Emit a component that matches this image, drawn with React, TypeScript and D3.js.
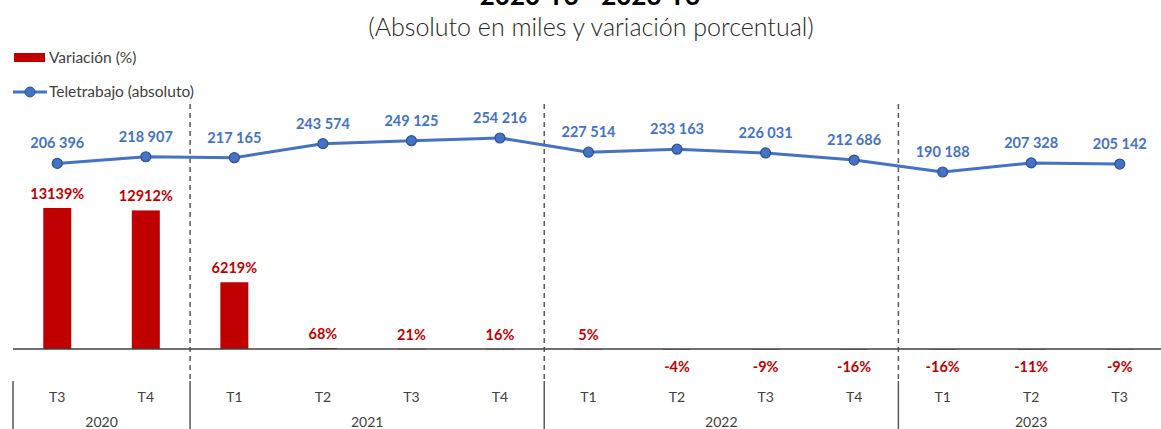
import React from "react";
import * as d3 from "d3";

const quarters = ["T3", "T4", "T1", "T2", "T3", "T4", "T1", "T2", "T3", "T4", "T1", "T2", "T3"];
const years = ["2020", "2020", "2021", "2021", "2021", "2021", "2022", "2022", "2022", "2022", "2023", "2023", "2023"];
const variation = [13139, 12912, 6219, 68, 21, 16, 5, -4, -9, -16, -16, -11, -9];
const teletrabajo = [206396, 218907, 217165, 243574, 249125, 254216, 227514, 233163, 226031, 212686, 190188, 207328, 205142];

const W = 1161;
const H = 429;
const FONT = "Lato, 'Open Sans', sans-serif";
const RED = "#C00000";
const BLUE = "#4472C4";

const fmt = (v: number) => {
  const s = String(v);
  return s.length > 3 ? s.slice(0, s.length - 3) + " " + s.slice(s.length - 3) : s;
};

export default function App() {
  const ids = quarters.map((_, i) => String(i));
  const x = d3.scaleBand<string>().domain(ids).range([13, 1164]).paddingInner(0).paddingOuter(0);
  const step = x.step();
  const cx = (i: number) => (x(String(i)) as number) + step / 2;
  const baseY = 349;
  const yBar = d3.scaleLinear().domain([0, 13139]).range([baseY, 208]);
  const yLine = d3.scaleLinear().domain([190188, 254216]).range([172, 138]);
  const barW = 28;

  const lineGen = d3
    .line<number>()
    .x((_, i) => cx(i))
    .y((d) => yLine(d));

  const groups: { year: string; start: number; end: number }[] = [];
  years.forEach((y, i) => {
    const last = groups[groups.length - 1];
    if (last && last.year === y) last.end = i;
    else groups.push({ year: y, start: i, end: i });
  });

  return (
    <svg width={W} height={H} style={{ position: "absolute", left: 0, top: 0, background: "#fff" }}>
      {/* title */}
      <text x={590} y={5} textAnchor="middle" fontFamily={FONT} fontSize={26} fontWeight="bold" fill="#000">
        2020-T3 - 2023-T3
      </text>
      <text x={591} y={36} textAnchor="middle" fontFamily={FONT} fontSize={25} fontWeight={300} fill="#262626">
        (Absoluto en miles y variación porcentual)
      </text>

      {/* legend */}
      <rect x={14} y={53} width={31} height={9} fill={RED} />
      <text x={49} y={63} fontFamily={FONT} fontSize={15.5} fill="#404040">
        Variación (%)
      </text>
      <line x1={13} y1={92} x2={47} y2={92} stroke={BLUE} strokeWidth={3} />
      <circle cx={30} cy={92} r={5} fill={BLUE} stroke="#2F528F" strokeWidth={1} />
      <text x={49} y={97} fontFamily={FONT} fontSize={15.5} fill="#404040">
        Teletrabajo (absoluto)
      </text>

      {/* dashed year separators */}
      {groups.slice(1).map((g) => {
        const xx = x(String(g.start)) as number;
        return (
          <line key={"d" + g.year} x1={xx} x2={xx} y1={104} y2={380} stroke="#595959" strokeWidth={1.5} strokeDasharray="5,4" />
        );
      })}

      {/* bars */}
      {variation.map((v, i) => {
        const y0 = yBar(Math.max(0, v));
        const y1 = yBar(Math.min(0, v));
        return <rect key={"b" + i} x={cx(i) - barW / 2} y={y0} width={barW} height={Math.max(0.5, y1 - y0)} fill={RED} />;
      })}

      {/* axis line */}
      <line x1={13} x2={1161} y1={baseY} y2={baseY} stroke="#404040" strokeWidth={1.5} />

      {/* bar labels */}
      {variation.map((v, i) => {
        const yy = v >= 0 ? yBar(v) - 9 : 372;
        return (
          <text key={"bl" + i} x={cx(i)} y={yy} textAnchor="middle" fontFamily={FONT} fontSize={14.5} fontWeight="bold" fill={RED}>
            {v + "%"}
          </text>
        );
      })}

      {/* line */}
      <path d={lineGen(teletrabajo) as string} fill="none" stroke={BLUE} strokeWidth={3} strokeLinejoin="round" />
      {teletrabajo.map((v, i) => (
        <circle key={"p" + i} cx={cx(i)} cy={yLine(v)} r={5} fill={BLUE} stroke="#2F528F" strokeWidth={1.2} />
      ))}
      {teletrabajo.map((v, i) => (
        <text key={"pl" + i} x={cx(i)} y={yLine(v) - 15} textAnchor="middle" fontFamily={FONT} fontSize={14.5} fontWeight="bold" fill={BLUE}>
          {fmt(v)}
        </text>
      ))}

      {/* category axis */}
      {quarters.map((q, i) => (
        <text key={"q" + i} x={cx(i)} y={402} textAnchor="middle" fontFamily={FONT} fontSize={14} fill="#404040">
          {q}
        </text>
      ))}
      {groups.map((g) => {
        const xs = x(String(g.start)) as number;
        const xe = (x(String(g.end)) as number) + step;
        return (
          <g key={"g" + g.year}>
            <line x1={xs} x2={xs} y1={381} y2={429} stroke="#595959" strokeWidth={1.5} />
            <text x={(xs + xe) / 2} y={427} textAnchor="middle" fontFamily={FONT} fontSize={14} fill="#404040">
              {g.year}
            </text>
          </g>
        );
      })}
    </svg>
  );
}
